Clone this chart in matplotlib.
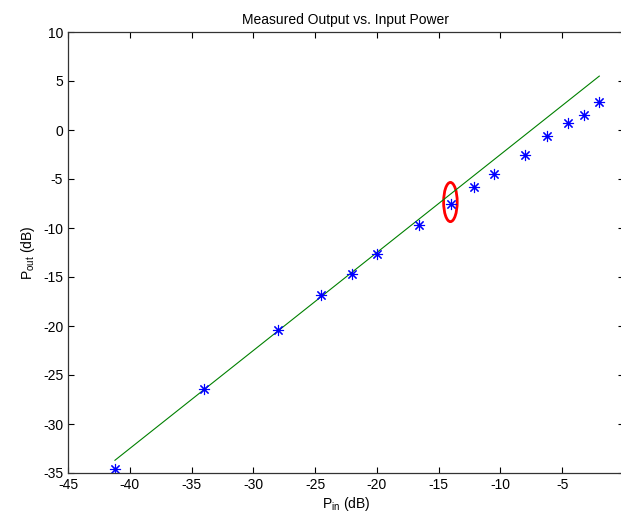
import matplotlib.pyplot as plt
from matplotlib.patches import Ellipse

plt.rcParams['font.family'] = ['Liberation Sans', 'DejaVu Sans']
plt.rcParams['mathtext.default'] = 'regular'
plt.rcParams['axes.unicode_minus'] = False

# measured points
pin = [-41.2, -34.0, -28.0, -24.5, -22.0, -20.0, -16.6, -14.0,
       -12.1, -10.5, -8.0, -6.2, -4.5, -3.2, -2.0]
pout = [-34.6, -26.4, -20.4, -16.8, -14.7, -12.65, -9.7, -7.55,
        -5.8, -4.5, -2.55, -0.6, 0.7, 1.5, 2.85]

# linear reference line
pin_fit = [-41.2, -2.0]
pout_fit = [-33.7, 5.5]

# marked point (compression region)
mark_center = (-14.05, -7.35)
mark_w, mark_h = 1.1, 4.0

fig = plt.figure(figsize=(6.21, 5.14), dpi=100)
ax = fig.add_axes([68 / 621, 41 / 514, 556 / 621, 441 / 514])

ax.plot(pin_fit, pout_fit, color=(0, 0.5, 0), lw=0.8)
ax.plot(pin, pout, linestyle='none', marker=(8, 2, 0), markersize=8,
        markeredgewidth=0.8, color='blue')
ax.add_patch(Ellipse(mark_center, mark_w, mark_h, fill=False,
                     edgecolor='red', lw=2))

ax.set_xlim(-45, 0)
ax.set_ylim(-35, 10)
ax.set_xticks(range(-45, 1, 5))
ax.set_yticks(range(-35, 11, 5))
ax.tick_params(direction='in', top=True, right=True, length=4,
               labelsize=10, colors='black')
for s in ax.spines.values():
    s.set_color('#333333')
    s.set_linewidth(0.9)

ax.set_title("Measured Output vs. Input Power", fontsize=10)
ax.set_xlabel("P$_{in}$ (dB)", fontsize=10, labelpad=2)
ax.set_ylabel("P$_{out}$ (dB)", fontsize=10)

fig.savefig("out.png", dpi=100)
